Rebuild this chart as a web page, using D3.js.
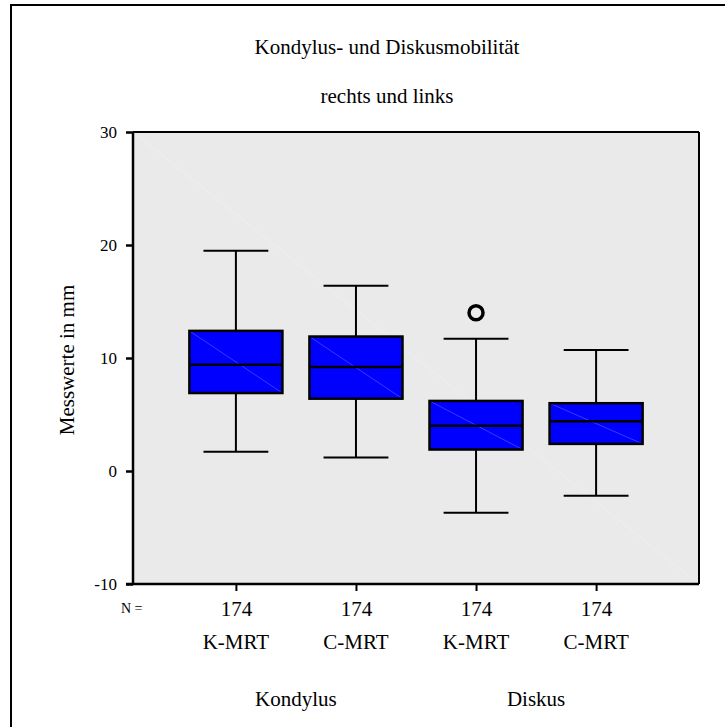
<!DOCTYPE html>
<html>
<head>
<meta charset="utf-8">
<script src="https://cdn.jsdelivr.net/npm/d3@7/dist/d3.min.js"></script>
<style>
  html, body { margin: 0; padding: 0; background: #fff; }
  svg { display: block; }
  svg text { font-family: "Liberation Serif", "Times New Roman", Times, "DejaVu Serif", serif !important; fill: #000; }
</style>
</head>
<body>
<svg id="chart" width="725" height="727"></svg>
<script>
// ---- Data ----
const categories = ["K-MRT", "C-MRT", "K-MRT", "C-MRT"];
const groups = ["Kondylus", "Diskus"];
const nValues = [174, 174, 174, 174];
const whiskerLow = [1.7, 1.2, -3.7, -2.2];
const q1 = [6.9, 6.4, 1.9, 2.4];
const median = [9.4, 9.2, 4.0, 4.4];
const q3 = [12.4, 11.9, 6.2, 6.0];
const whiskerHigh = [19.5, 16.4, 11.7, 10.7];
const outliers = [[], [], [14.0], []];
const yTicks = [-10, 0, 10, 20, 30];
const titleLines = ["Kondylus- und Diskusmobilität", "rechts und links"];
const yLabel = "Messwerte in mm";

const FONT = '"Liberation Serif", "Times New Roman", Times, "DejaVu Serif", serif';

// ---- Layout ----
const svg = d3.select("#chart");
const plot = { left: 133, right: 699, top: 132, bottom: 584 };

const idx = categories.map((c, i) => i);
const x = d3.scalePoint().domain(idx).range([plot.left, plot.right]).padding(0.857);
const y = d3.scaleLinear().domain([-10, 30]).range([plot.bottom, plot.top]);
const step = x.step();
const boxW = step * 0.775;
const capW = step * 0.54;

// outer frame
svg.append("rect").attr("x", 11).attr("y", 5).attr("width", 760).attr("height", 760)
  .attr("fill", "#fff").attr("stroke", "#000").attr("stroke-width", 2);

// titles
svg.append("text").attr("x", 387).attr("y", 54).attr("text-anchor", "middle")
  .attr("font-family", FONT).style("font-size", "21px").text(titleLines[0]);
svg.append("text").attr("x", 387).attr("y", 103).attr("text-anchor", "middle")
  .attr("font-family", FONT).style("font-size", "21px").text(titleLines[1]);

// plot background
svg.append("rect").attr("x", plot.left).attr("y", plot.top)
  .attr("width", plot.right - plot.left).attr("height", plot.bottom - plot.top)
  .attr("fill", "#eaeaea");
svg.append("line").attr("x1", plot.left).attr("y1", plot.top)
  .attr("x2", plot.right).attr("y2", plot.bottom)
  .attr("stroke", "#efefef").attr("stroke-width", 1);

// boxes
const g = svg.append("g");
idx.forEach(i => {
  const cx = x(i);
  // whiskers
  g.append("line").attr("x1", cx).attr("x2", cx).attr("y1", y(q3[i])).attr("y2", y(whiskerHigh[i]))
    .attr("stroke", "#000").attr("stroke-width", 2);
  g.append("line").attr("x1", cx).attr("x2", cx).attr("y1", y(q1[i])).attr("y2", y(whiskerLow[i]))
    .attr("stroke", "#000").attr("stroke-width", 2);
  g.append("line").attr("x1", cx - capW / 2).attr("x2", cx + capW / 2)
    .attr("y1", y(whiskerHigh[i])).attr("y2", y(whiskerHigh[i]))
    .attr("stroke", "#000").attr("stroke-width", 2);
  g.append("line").attr("x1", cx - capW / 2).attr("x2", cx + capW / 2)
    .attr("y1", y(whiskerLow[i])).attr("y2", y(whiskerLow[i]))
    .attr("stroke", "#000").attr("stroke-width", 2);
  // box
  g.append("rect").attr("x", cx - boxW / 2).attr("y", y(q3[i]))
    .attr("width", boxW).attr("height", y(q1[i]) - y(q3[i]))
    .attr("fill", "#0000ff").attr("stroke", "none");
  g.append("line").attr("x1", cx - boxW / 2).attr("y1", y(q3[i]))
    .attr("x2", cx + boxW / 2).attr("y2", y(q1[i]))
    .attr("stroke", "#3a3aff").attr("stroke-width", 1);
  g.append("rect").attr("x", cx - boxW / 2).attr("y", y(q3[i]))
    .attr("width", boxW).attr("height", y(q1[i]) - y(q3[i]))
    .attr("fill", "none").attr("stroke", "#000").attr("stroke-width", 2.5);
  g.append("line").attr("x1", cx - boxW / 2).attr("x2", cx + boxW / 2)
    .attr("y1", y(median[i])).attr("y2", y(median[i]))
    .attr("stroke", "#000").attr("stroke-width", 2.5);
  // outliers
  outliers[i].forEach(v => {
    g.append("circle").attr("cx", cx).attr("cy", y(v)).attr("r", 7)
      .attr("fill", "none").attr("stroke", "#000").attr("stroke-width", 3.5);
  });
});

// plot frame: top and right
svg.append("line").attr("x1", plot.left).attr("x2", plot.right).attr("y1", plot.top).attr("y2", plot.top)
  .attr("stroke", "#000").attr("stroke-width", 2);
svg.append("line").attr("x1", plot.right).attr("x2", plot.right).attr("y1", plot.top).attr("y2", plot.bottom)
  .attr("stroke", "#000").attr("stroke-width", 2);

// y axis
const yAxis = svg.append("g").attr("transform", `translate(${plot.left},0)`)
  .call(d3.axisLeft(y).tickValues(yTicks).tickSize(7).tickPadding(9).tickFormat(d => String(d)));
yAxis.attr("font-family", FONT);
yAxis.select(".domain").attr("stroke", "#000").attr("stroke-width", 2.5)
  .attr("d", `M0,${plot.top}V${plot.bottom}`);
yAxis.selectAll(".tick line").attr("stroke", "#000").attr("stroke-width", 2.5);
yAxis.selectAll(".tick text").attr("font-family", FONT).style("font-size", "17px");

// x axis
const xAxis = svg.append("g").attr("transform", `translate(0,${plot.bottom})`)
  .call(d3.axisBottom(x).tickSize(7).tickFormat(i => String(nValues[i])).tickPadding(10));
xAxis.attr("font-family", FONT);
xAxis.select(".domain").attr("stroke", "#000").attr("stroke-width", 2.5)
  .attr("d", `M${plot.left - 7},0H${plot.right}`);
xAxis.selectAll(".tick line").attr("stroke", "#000").attr("stroke-width", 2);
xAxis.selectAll(".tick text").attr("font-family", FONT).style("font-size", "21px");

// N =
svg.append("text").attr("x", 121).attr("y", 613).attr("font-family", FONT)
  .style("font-size", "14px").text("N =");

// category labels
svg.selectAll(".cat").data(idx).enter().append("text")
  .attr("x", i => x(i)).attr("y", 649).attr("text-anchor", "middle")
  .attr("font-family", FONT).style("font-size", "21px").text(i => categories[i]);

// group labels
groups.forEach((gname, k) => {
  const cx = (x(2 * k) + x(2 * k + 1)) / 2;
  svg.append("text").attr("x", cx).attr("y", 706).attr("text-anchor", "middle")
    .attr("font-family", FONT).style("font-size", "21px").text(gname);
});

// y label
svg.append("text").attr("transform", `translate(74,360) rotate(-90)`)
  .attr("text-anchor", "middle").attr("font-family", FONT)
  .style("font-size", "21px").text(yLabel);
</script>
</body>
</html>
